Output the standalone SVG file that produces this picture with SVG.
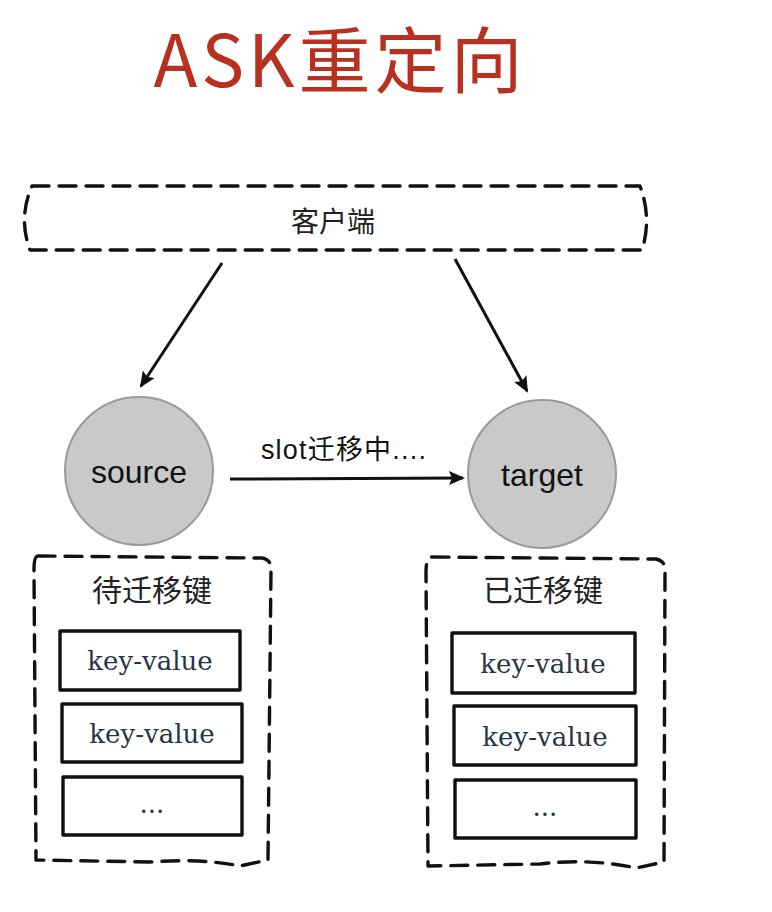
<svg xmlns="http://www.w3.org/2000/svg" width="772" height="912" viewBox="0 0 772 912">
<defs>
<marker id="ah" markerWidth="16" markerHeight="14" refX="14" refY="7" orient="auto" markerUnits="userSpaceOnUse" viewBox="0 0 16 14">
<path d="M0,0 L16,7 L0,14 L3,7 Z" fill="#111"/>
</marker>
</defs>
<style>
.dash{fill:none;stroke:#111;stroke-width:3.4;stroke-dasharray:17 10;stroke-linecap:round;stroke-linejoin:round}
.kv{fill:#fff;stroke:#111;stroke-width:3.4;stroke-linejoin:round}
.circ{fill:#c9c9c9;stroke:#9a9a9a;stroke-width:2}
.cn{font-family:"Noto Sans CJK SC","Liberation Sans",sans-serif;fill:#222}
.en{font-family:"Liberation Sans",Arial,sans-serif;fill:#111}
.kvt{font-family:"DejaVu Serif","Liberation Serif",serif;font-size:26px;fill:#2a3344;text-anchor:middle}
.conn{stroke:#111;stroke-width:3;fill:none}
</style>
<rect width="772" height="912" fill="#fff"/>
<text x="340" y="87" text-anchor="middle" font-family="Noto Sans CJK SC,Liberation Sans,sans-serif" font-size="72" letter-spacing="4" fill="#b8301f">ASK重定向</text>

<g id="client">
<path class="dash" d="M32,186 L640,186 Q652,218 642,250 L30,250 Q18,218 32,186 Z"/>
<text class="cn" x="333" y="232" font-size="28" text-anchor="middle">客户端</text>
</g>

<g id="source">
<circle class="circ" cx="139" cy="471" r="74"/>
<text class="en" x="139" y="483" font-size="32" text-anchor="middle">source</text>
</g>

<g id="target">
<circle class="circ" cx="542" cy="474" r="74"/>
<text class="en" x="542" y="486" font-size="32" text-anchor="middle">target</text>
</g>

<g id="pending">
<path class="dash" d="M38,556 L262,558 Q272,560 271,570 L268,860 L240,866 Q200,858 150,862 L36,860 L34,570 Q34,556 38,556 Z"/>
<text class="cn" x="152" y="601" font-size="30" text-anchor="middle">待迁移键</text>
<rect class="kv" x="60" y="631" width="180" height="59"/>
<text class="kvt" x="150" y="670">key-value</text>
<rect class="kv" x="62" y="704" width="180" height="58"/>
<text class="kvt" x="152" y="743">key-value</text>
<rect class="kv" x="63" y="777" width="179" height="58"/>
<text class="kvt" x="152" y="813">...</text>
</g>

<g id="migrated">
<path class="dash" d="M432,557 L656,559 Q666,561 665,572 L664,862 L636,868 Q590,858 540,864 L428,866 L426,572 Q426,557 432,557 Z"/>
<text class="cn" x="543" y="601" font-size="30" text-anchor="middle">已迁移键</text>
<rect class="kv" x="452" y="633" width="183" height="60"/>
<text class="kvt" x="543" y="673">key-value</text>
<rect class="kv" x="454" y="706" width="182" height="59"/>
<text class="kvt" x="545" y="746">key-value</text>
<rect class="kv" x="455" y="780" width="181" height="58"/>
<text class="kvt" x="545" y="816">...</text>
</g>

<g id="connectors">
<line class="conn" x1="222" y1="263" x2="141" y2="386" marker-end="url(#ah)"/>
<line class="conn" x1="455" y1="259" x2="527" y2="391" marker-end="url(#ah)"/>
<line class="conn" x1="230" y1="479" x2="463" y2="478" marker-end="url(#ah)"/>
<text class="en" x="344" y="459" font-size="27" letter-spacing="1.2" text-anchor="middle">slot<tspan font-family="Noto Sans CJK SC,sans-serif">迁移中</tspan>....</text>
</g>
</svg>
